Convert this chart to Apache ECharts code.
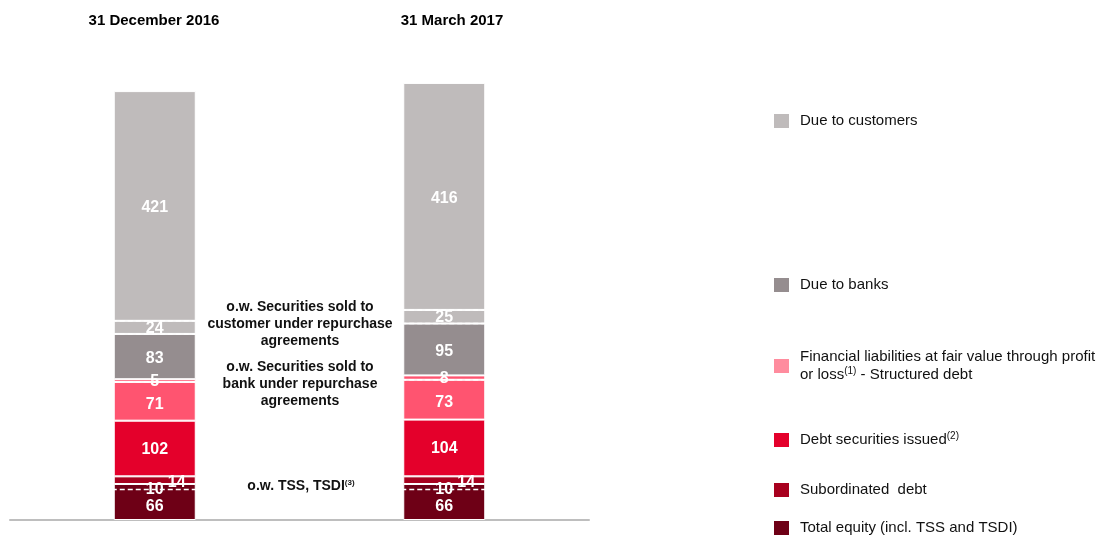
<!DOCTYPE html>
<html>
<head>
<meta charset="utf-8">
<script src="https://cdn.jsdelivr.net/npm/echarts@6/dist/echarts.min.js"></script>
<style>
  html, body { margin: 0; padding: 0; background: #fff; }
  #chart { width: 1104px; height: 539px; }
</style>
</head>
<body>
<div id="chart"></div>
<script>
// ---- data ----
var categories = ['31 December 2016', '31 March 2017'];
var totalEquity = [66, 66];
var tssTsdi = [10, 10];
var subordinatedDebt = [14, 14];
var debtSecurities = [102, 104];
var financialLiabilities = [71, 73];
var repoBanks = [5, 8];
var dueToBanks = [83, 95];
var repoCustomers = [24, 25];
var dueToCustomers = [421, 416];

var FONT = '"Liberation Sans", Arial, sans-serif';

var names = {
  equity: 'Total equity (incl. TSS and TSDI)',
  sub: 'Subordinated  debt',
  debt: 'Debt securities issued',
  fin: 'Financial liabilities at fair value through profit or loss - Structured debt',
  banks: 'Due to banks',
  cust: 'Due to customers'
};

var colors = {
  equity: '#6E0016',
  sub: '#A8001E',
  debt: '#E4002B',
  fin: '#FF5470',
  finLegend: '#FF8C9E',
  banks: '#958D8F',
  cust: '#BFBBBB'
};

function barSeries(name, data, color, labelOffset) {
  return {
    name: name,
    type: 'bar',
    stack: 'total',
    barWidth: 82,
    data: data,
    itemStyle: { color: color, borderColor: '#fff', borderWidth: 1 },
    label: {
      show: true,
      position: 'inside',
      color: '#fff',
      fontWeight: 'bold',
      fontSize: 16,
      fontFamily: FONT,
      offset: labelOffset || [0, 1]
    },
    emphasis: { disabled: true }
  };
}

// dashed separator lines (levels computed from the stacked values)
var dashData = [];
for (var i = 0; i < categories.length; i++) {
  var lvEq = totalEquity[i] - tssTsdi[i];
  var lvFin = totalEquity[i] + subordinatedDebt[i] + debtSecurities[i] + financialLiabilities[i];
  var lvRcBottom = lvFin + repoBanks[i] + dueToBanks[i];
  var lvRcTop = lvRcBottom + repoCustomers[i];
  dashData.push([i, lvEq, String(tssTsdi[i])]);
  dashData.push([i, lvFin, '']);
  dashData.push([i, lvRcBottom, '']);
  dashData.push([i, lvRcTop, '']);
}

var chart = echarts.init(document.getElementById('chart'));

var legendDefs = [
  { key: 'cust', top: 112 },
  { key: 'banks', top: 276 },
  { key: 'fin', top: 348 },
  { key: 'debt', top: 431 },
  { key: 'sub', top: 481 },
  { key: 'equity', top: 519 }
];

var legends = legendDefs.map(function (d) {
  return {
    left: 772,
    top: d.top,
    padding: 0,
    orient: 'vertical',
    icon: 'rect',
    itemWidth: 17,
    itemHeight: 16,
    selectedMode: false,
    data: [{ name: names[d.key], itemStyle: { color: d.key === 'fin' ? colors.finLegend : colors[d.key] } }],
    formatter: function (n) {
      if (n === names.fin) return 'Financial liabilities at fair value through profit\nor loss{sup|(1)} - Structured debt';
      if (n === names.debt) return 'Debt securities issued{sup|(2)}';
      return n;
    },
    textStyle: {
      fontSize: 15,
      fontFamily: FONT,
      color: '#111',
      lineHeight: 18,
      padding: [0, 0, 0, 5],
      rich: {
        sup: { fontSize: 10, verticalAlign: 'top', lineHeight: 18, fontFamily: FONT, color: '#111' }
      }
    }
  };
});

var option = {
  animation: false,
  backgroundColor: '#fff',
  grid: { left: 10, right: 515, top: 78, bottom: 19 },
  legend: legends,
  xAxis: {
    type: 'category',
    data: categories,
    axisLine: { show: true, lineStyle: { color: '#BEBEBE', width: 2 } },
    axisTick: { show: false },
    axisLabel: { show: false }
  },
  yAxis: {
    type: 'value',
    min: 0,
    max: 810,
    show: false,
    splitLine: { show: false }
  },
  graphic: [
    { type: 'text', x: 154, y: 21, style: { text: categories[0], textAlign: 'center', textVerticalAlign: 'middle', font: 'bold 15px ' + FONT, fill: '#000' } },
    { type: 'text', x: 452, y: 21, style: { text: categories[1], textAlign: 'center', textVerticalAlign: 'middle', font: 'bold 15px ' + FONT, fill: '#000' } },
    { type: 'text', x: 300, y: 324, style: { text: 'o.w. Securities sold to\ncustomer under repurchase\nagreements', textAlign: 'center', textVerticalAlign: 'middle', font: 'bold 14px ' + FONT, lineHeight: 17, fill: '#111' } },
    { type: 'text', x: 300, y: 384, style: { text: 'o.w. Securities sold to\nbank under repurchase\nagreements', textAlign: 'center', textVerticalAlign: 'middle', font: 'bold 14px ' + FONT, lineHeight: 17, fill: '#111' } },
    { type: 'text', x: 301, y: 486, style: { text: 'o.w. TSS, TSDI{sup|(3)}', textAlign: 'center', textVerticalAlign: 'middle', font: 'bold 14px ' + FONT, fill: '#111',
        rich: { sup: { fontSize: 8, fontWeight: 'bold', verticalAlign: 'top', fontFamily: FONT, fill: '#111' } } } }
  ],
  series: [
    barSeries(names.equity, totalEquity, colors.equity, [0, 5]),
    barSeries(names.sub, subordinatedDebt, colors.sub, [22, 2]),
    barSeries(names.debt, debtSecurities, colors.debt, [0, 1]),
    barSeries(names.fin, financialLiabilities, colors.fin, [0, 3]),
    barSeries('o.w. Securities sold to bank under repurchase agreements', repoBanks, colors.fin, [0, 1]),
    barSeries(names.banks, dueToBanks, colors.banks, [0, 2]),
    barSeries('o.w. Securities sold to customer under repurchase agreements', repoCustomers, colors.cust, [0, 1]),
    barSeries(names.cust, dueToCustomers, colors.cust, [0, 2]),
    {
      name: 'dashes',
      type: 'custom',
      z: 10,
      data: dashData,
      silent: true,
      renderItem: function (params, api) {
        var p = api.coord([api.value(0), api.value(1)]);
        var half = 43;
        var children = [{
          type: 'line',
          shape: { x1: p[0] - half, y1: p[1], x2: p[0] + half, y2: p[1] },
          style: { stroke: '#fff', lineWidth: 1.5, lineDash: [5, 3] }
        }];
        var t = api.value(2);
        if (t) {
          children.push({
            type: 'text',
            x: p[0],
            y: p[1],
            style: { text: String(t), textAlign: 'center', textVerticalAlign: 'middle', font: 'bold 16px ' + FONT, fill: '#fff' }
          });
        }
        return { type: 'group', children: children };
      }
    }
  ]
};

chart.setOption(option);
</script>
</body>
</html>
